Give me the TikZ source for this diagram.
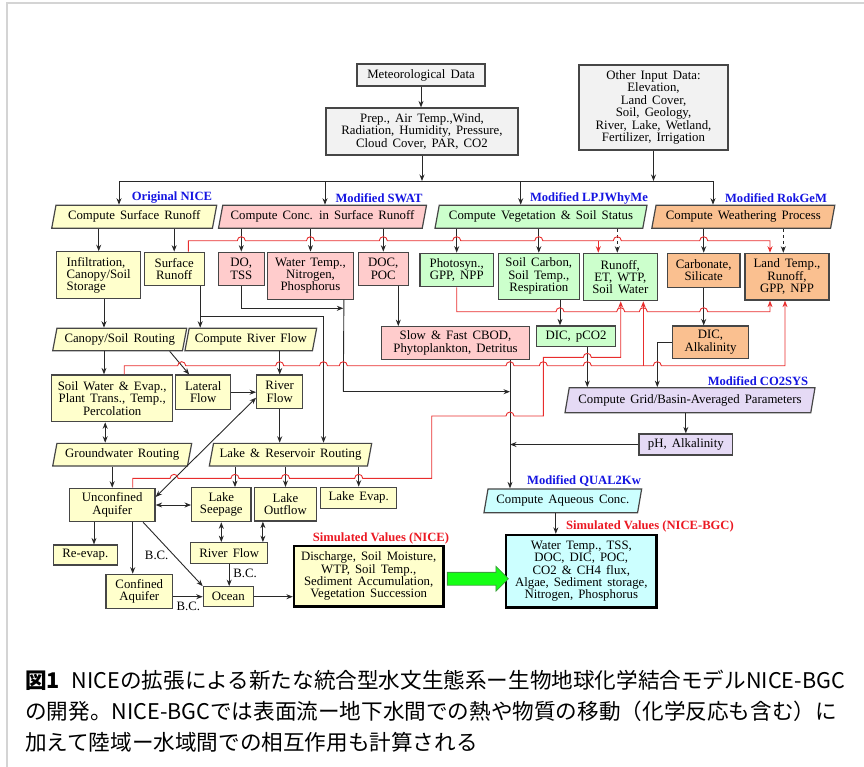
\documentclass[tikz,border=0pt]{standalone}
\usepackage{fontspec}
\setmainfont{Liberation Serif}
\newfontfamily\jpfont{Noto Sans CJK JP}
\usetikzlibrary{shapes.geometric,shapes.arrows,arrows.meta,calc}
\definecolor{boxyellow}{RGB}{255,255,204}
\definecolor{boxpink}{RGB}{255,204,204}
\definecolor{boxgreen}{RGB}{204,255,204}
\definecolor{boxorange}{RGB}{250,192,144}
\definecolor{boxpurple}{RGB}{229,218,245}
\definecolor{boxcyan}{RGB}{204,255,255}
\definecolor{boxgray}{RGB}{242,242,242}
\definecolor{boxedge}{RGB}{70,70,70}
\definecolor{lineblack}{RGB}{40,40,40}
\definecolor{redline}{RGB}{232,45,45}
\definecolor{tagblue}{RGB}{20,20,225}
\definecolor{tagred}{RGB}{235,25,35}
\definecolor{gainfill}{RGB}{20,255,20}
\definecolor{gainedge}{RGB}{60,160,60}
\definecolor{framegray}{RGB}{212,212,212}
\newcommand{\boxfont}{\fontsize{12.8}{12.4}\selectfont\spaceskip=0.4em plus 0.1em minus 0.05em\relax}
\newcommand{\tagfont}{\fontsize{12.6}{13}\selectfont\bfseries}
\newcommand{\capfont}{\jpfont\fontsize{21.6}{31}\selectfont}
\newcommand{\redhop}[2]{-- (#1-4,#2) arc[start angle=180,end angle=360,radius=4]}

\begin{document}
\begin{tikzpicture}[x=1pt,y=-1pt]
  \tikzset{rect/.style={draw=boxedge,line width=1.2pt,rectangle,inner sep=1pt,align=center,font=\boxfont}}
  \tikzset{para/.style={draw=boxedge,line width=1.2pt,trapezium,trapezium left angle=70,trapezium right angle=110,trapezium stretches body,inner sep=0pt,font=\boxfont}}
  \tikzset{tag/.style={inner sep=0pt,font=\tagfont,text=tagblue}}
  \tikzset{bc/.style={inner sep=0pt,font=\boxfont}}
  \tikzset{arrow/.style={draw=lineblack,line width=0.9pt,->,>={Stealth[length=6.5pt,width=5pt]}}}
  \tikzset{wire/.style={draw=lineblack,line width=0.9pt}}
  \tikzset{redarrow/.style={draw=redline,line width=0.9pt,->,>={Stealth[length=6.5pt,width=5pt]}}}

  \def\redA{240.7}
  \def\redB{311.7}
  \def\redC{365.7}

  \useasboundingbox (0,0) rectangle (864,766);
  \draw[framegray,line width=2pt] (870,3) -- (7,3) -- (7,770);

  \node[rect,fill=boxgray,minimum width=128,minimum height=22] (metdata) at (421,75) {Meteorological Data};
  \node[rect,fill=boxgray,minimum width=192,minimum height=47] (metvars) at (422,131.5) {Prep., Air Temp.,Wind,\\Radiation, Humidity, Pressure,\\Cloud Cover, PAR, CO2};
  \node[rect,fill=boxgray,minimum width=149,minimum height=85] (otherin) at (653.5,107.5) {Other Input Data:\\Elevation,\\Land Cover,\\Soil, Geology,\\River, Lake, Wetland,\\Fertilizer, Irrigation};

  \node[tag] (tagnice) at (172,198) {Original NICE};
  \node[tag] (tagswat) at (379,198) {Modified SWAT};
  \node[tag] (taglpj) at (589,198) {Modified LPJWhyMe};
  \node[tag] (tagrok) at (776,198) {Modified RokGeM};
  \node[tag] (tagco2) at (758,381) {Modified CO2SYS};
  \node[tag] (tagqual) at (584,481) {Modified QUAL2Kw};
  \node[tag,text=tagred] (tagsimn) at (381,538.3) {Simulated Values (NICE)};
  \node[tag,text=tagred] (tagsimb) at (650,526.7) {Simulated Values (NICE-BGC)};

  \node[para,fill=boxyellow,minimum width=165,minimum height=23] (surfr) at (134.2,216.8) {Compute Surface Runoff};
  \node[para,fill=boxpink,minimum width=208,minimum height=23] (concsr) at (322.5,216.8) {Compute Conc. in Surface Runoff};
  \node[para,fill=boxgreen,minimum width=212,minimum height=23] (vegsoil) at (541,216.8) {Compute Vegetation \& Soil Status};
  \node[para,fill=boxorange,minimum width=183,minimum height=23] (weather) at (743.3,216.8) {Compute Weathering Process};

  \node[rect,fill=boxyellow,minimum width=84,minimum height=47,align=left] (infil) at (98.7,275.3) {Infiltration,\\Canopy/Soil\\Storage};
  \node[rect,fill=boxyellow,minimum width=60,minimum height=33.5] (surfbox) at (174.2,269) {Surface\\Runoff};
  \node[rect,fill=boxpink,minimum width=46,minimum height=33.5] (dotss) at (241.3,269) {DO,\\TSS};
  \node[rect,fill=boxpink,minimum width=85.6,minimum height=47] (wtemp) at (310.5,275.7) {Water Temp.,\\Nitrogen,\\Phosphorus};
  \node[rect,fill=boxpink,minimum width=50,minimum height=33.5] (docpoc) at (383.3,269) {DOC,\\POC};
  \node[rect,fill=boxgreen,minimum width=73.3,minimum height=33.5] (photo) at (456.7,270) {Photosyn.,\\GPP, NPP};
  \node[rect,fill=boxgreen,minimum width=81,minimum height=46] (soilc) at (538.8,276.3) {Soil Carbon,\\Soil Temp.,\\Respiration};
  \node[rect,fill=boxgreen,minimum width=74,minimum height=47.4] (runoff) at (620.3,277) {Runoff,\\ET, WTP,\\Soil Water};
  \node[rect,fill=boxorange,minimum width=72.7,minimum height=34] (carb) at (703.7,270.3) {Carbonate,\\Silicate};
  \node[rect,fill=boxorange,minimum width=84,minimum height=46.7] (landt) at (787,276.7) {Land Temp.,\\Runoff,\\GPP, NPP};

  \node[para,fill=boxyellow,minimum width=134,minimum height=22.4] (canopyr) at (119.7,339.5) {Canopy/Soil Routing};
  \node[para,fill=boxyellow,minimum width=131.7,minimum height=22.4] (riverc) at (250.8,339.5) {Compute River Flow};
  \node[rect,fill=boxpink,minimum width=147.6,minimum height=32.6] (cbod) at (455.5,343) {Slow \& Fast CBOD,\\Phytoplankton, Detritus};
  \node[rect,fill=boxgreen,minimum width=78.6,minimum height=20.7] (dicpco2) at (576,336.3) {DIC, pCO2};
  \node[rect,fill=boxorange,minimum width=75.6,minimum height=32.3] (dicalk) at (710.5,342.2) {DIC,\\Alkalinity};

  \node[rect,fill=boxyellow,minimum width=121,minimum height=46.7] (soilw) at (112.2,398.3) {Soil Water \& Evap.,\\Plant Trans., Temp.,\\Percolation};
  \node[rect,fill=boxyellow,minimum width=55,minimum height=34.3] (lateral) at (203.2,392.2) {Lateral\\Flow};
  \node[rect,fill=boxyellow,minimum width=46,minimum height=33.3] (riverf) at (279.7,391.7) {River\\Flow};
  \node[para,fill=boxpurple,minimum width=250,minimum height=25] (gridavg) at (690,400.2) {Compute Grid/Basin-Averaged Parameters};
  \node[rect,fill=boxpurple,minimum width=93.7,minimum height=21] (phalk) at (685.8,444.5) {pH, Alkalinity};

  \node[para,fill=boxyellow,minimum width=139,minimum height=22.7] (gwr) at (122.2,454.7) {Groundwater Routing};
  \node[para,fill=boxyellow,minimum width=162.4,minimum height=22.7] (lakerr) at (290.5,454.7) {Lake \& Reservoir Routing};
  \node[para,fill=boxcyan,minimum width=157.7,minimum height=23.7] (aqconc) at (562.8,500.8) {Compute Aqueous Conc.};

  \node[rect,fill=boxyellow,minimum width=85.7,minimum height=33.4] (unconf) at (112.2,505) {Unconfined\\Aquifer};
  \node[rect,fill=boxyellow,minimum width=59.3,minimum height=34] (seep) at (221.3,504.7) {Lake\\Seepage};
  \node[rect,fill=boxyellow,minimum width=62.4,minimum height=33.5] (outflow) at (285.5,504.3) {Lake\\Outflow};
  \node[rect,fill=boxyellow,minimum width=76,minimum height=21] (evap) at (358.7,497.8) {Lake Evap.};

  \node[rect,fill=boxyellow,minimum width=64,minimum height=20] (reevap) at (85.3,555) {Re-evap.};
  \node[rect,fill=boxyellow,minimum width=77,minimum height=20.6] (riverl) at (229.2,553) {River Flow};
  \node[rect,fill=boxyellow,minimum width=66.7,minimum height=34] (confined) at (139.3,591.3) {Confined\\Aquifer};
  \node[rect,fill=boxyellow,minimum width=50,minimum height=20] (ocean) at (228.3,596.7) {Ocean};
  \node[rect,fill=boxyellow,draw=black,line width=2.4pt,minimum width=149.3,minimum height=60.7] (simnice) at (368.7,576.3) {Discharge, Soil Moisture,\\WTP, Soil Temp.,\\Sediment Accumulation,\\Vegetation Succession};
  \node[rect,fill=boxcyan,draw=black,line width=2.4pt,minimum width=150.7,minimum height=72.3] (simbgc) at (581.3,571.2) {Water Temp., TSS,\\DOC, DIC, POC,\\CO2 \& CH4 flux,\\Algae, Sediment storage,\\Nitrogen, Phosphorus};
  \node[single arrow,draw=gainedge,fill=gainfill,line width=0.8pt,inner sep=6pt,minimum height=61,single arrow head extend=6pt,single arrow tip angle=90,yshift=-5pt] (gain) at ($(simnice.east)!0.5!(simbgc.west)$) {};

  \node[bc] (bcaq) at (156.7,555.7) {B.C.};
  \node[bc] (bcriver) at (245,573.3) {B.C.};
  \node[bc] (bcconf) at (188.3,606.7) {B.C.};

  \node[anchor=base west,inner sep=0pt,font=\capfont] (cap1) at (25,688.5) {{\bfseries 図1}\hspace{0.55em}NICEの拡張による新たな統合型水文生態系ー生物地球化学結合モデルNICE-BGC};
  \node[anchor=base west,inner sep=0pt,font=\capfont] (cap2) at (25,719.5) {の開発。NICE-BGCでは表面流ー地下水間での熱や物質の移動（化学反応も含む）に};
  \node[anchor=base west,inner sep=0pt,font=\capfont] (cap3) at (25,750.5) {加えて陸域ー水域間での相互作用も計算される};

  \coordinate (bus) at (0,181);
  \coordinate (busnice) at (119,181);
  \coordinate (busswat) at (325,181);
  \coordinate (buslpj) at (520.7,181);
  \coordinate (busrok) at (713,181);
  \draw[arrow] (metdata.south) -- (metdata.south |- metvars.north);
  \draw[arrow] (metvars.south) -- (metvars.south |- bus);
  \draw[arrow] (otherin.south) -- (otherin.south |- bus);
  \draw[wire] (busnice) -- (busrok);
  \draw[arrow] (busnice) -- (busnice |- surfr.north);
  \draw[arrow] (busswat) -- (busswat |- concsr.north);
  \draw[arrow] (buslpj) -- (buslpj |- vegsoil.north);
  \draw[arrow] (busrok) -- (busrok |- weather.north);

  \coordinate (lpjdash) at ([xshift=-3]runoff.north);
  \coordinate (rokdash) at ([xshift=-3.7]landt.north);
  \draw[arrow] (surfr.south -| infil.north) -- (infil.north);
  \draw[arrow] (surfr.south -| surfbox.north) -- (surfbox.north);
  \draw[arrow] (concsr.south -| dotss.north) -- (dotss.north);
  \draw[arrow] (concsr.south -| wtemp.north) -- (wtemp.north);
  \draw[arrow] (concsr.south -| docpoc.north) -- (docpoc.north);
  \draw[arrow] (vegsoil.south -| photo.north) -- (photo.north);
  \draw[arrow] (vegsoil.south -| soilc.north) -- (soilc.north);
  \draw[arrow,dashed] (vegsoil.south -| lpjdash) -- (lpjdash);
  \draw[arrow] (weather.south -| carb.north) -- (carb.north);
  \draw[arrow,dashed] (weather.south -| rokdash) -- (rokdash);

  \coordinate (srout) at ([xshift=26]surfbox.south);
  \coordinate (srsplit) at (200.2,316.7);
  \coordinate (lakein) at ([xshift=33]lakerr.north);
  \draw[arrow] (srout) -- (srout |- riverc.north);
  \draw[arrow] (srsplit) -| (lakein);

  \coordinate (wtout) at ([xshift=-10]wtemp.south east);
  \coordinate (dojoin) at (343.3,308.3);
  \coordinate (wtturn) at (343.3,391.7);
  \coordinate (cbodout) at ([xshift=54.5]cbod.south);
  \coordinate (docout) at ([xshift=15]docpoc.south);
  \draw[arrow] (dotss.south) |- (dojoin);
  \draw[wire] (wtout) -- (wtturn);
  \draw[arrow] (wtturn) -- (wtturn -| cbodout);
  \draw[arrow] (docout) -- (docout |- cbod.north);
  \draw[arrow] (cbodout) -- (cbodout |- aqconc.north);
  \draw[arrow] (phalk.west) -- (phalk.west -| cbodout);

  \coordinate (scout) at ([xshift=21.2]soilc.south);
  \coordinate (dpout) at ([xshift=11.3]dicpco2.south);
  \coordinate (dakink) at (657.3,342.2);
  \coordinate (aqout) at ([xshift=-7]aqconc.south);
  \draw[arrow] (scout) -- (scout |- dicpco2.north);
  \draw[arrow] (dpout) -- (dpout |- gridavg.north);
  \draw[arrow] (carb.south) -- (carb.south |- dicalk.north);
  \draw[arrow] (dicalk.west) -| (dakink |- gridavg.north);
  \draw[arrow] (gridavg.south -| phalk.north) -- (phalk.north);
  \draw[arrow] (aqout) -- (aqout |- simbgc.north);

  \coordinate (infout) at ([xshift=5.3]infil.south);
  \coordinate (diaga) at ([xshift=50]canopyr.south);
  \coordinate (diagb) at ([xshift=-14]lateral.north);
  \coordinate (swout) at ([xshift=-7]soilw.south);
  \draw[arrow] (infout) -- (infout |- canopyr.north);
  \draw[arrow] (canopyr.south -| infout) -- (infout |- soilw.north);
  \draw[arrow] (diaga) -- (diagb);
  \draw[arrow] (riverc.south -| riverf.north) -- (riverf.north);
  \draw[arrow] (lateral.east) -- (lateral.east -| riverf.west);
  \draw[arrow] (riverf.south) -- (riverf.south |- lakerr.north);
  \draw[arrow,<->] (swout) -- (swout |- gwr.north);
  \draw[arrow] (gwr.south -| unconf.north) -- (unconf.north);

  \coordinate (aqdiag) at ([yshift=8]unconf.east);
  \coordinate (rfdiag) at ([yshift=-6]riverf.west);
  \coordinate (seepin) at ([xshift=13.7]seep.north);
  \coordinate (ureout) at ([xshift=-18.2]unconf.south);
  \coordinate (ucoout) at ([xshift=20.5]unconf.south);
  \coordinate (uocout) at ([xshift=31]unconf.south);
  \coordinate (ofx) at ([xshift=-5.4]riverl.north east);
  \draw[arrow,<->] (aqdiag) -- (rfdiag);
  \draw[arrow] (lakerr.south -| seepin) -- (seepin);
  \draw[arrow] (lakerr.south -| outflow.north) -- (outflow.north);
  \draw[arrow] (lakerr.south -| evap.north) -- (evap.north);
  \draw[arrow,<->] (unconf.east) -- (unconf.east -| seep.west);
  \draw[arrow] (ureout) -- (ureout |- reevap.north);
  \draw[arrow] (ucoout) -- (ucoout |- confined.north);
  \draw[arrow] (uocout) -- (ocean.north west);
  \draw[arrow,<->] (seep.south) -- (seep.south |- riverl.north);
  \draw[arrow,<->] (ofx) -- (ofx |- outflow.south);
  \draw[arrow] (riverl.south) -- (riverl.south |- ocean.north);
  \draw[arrow] (confined.east |- ocean.west) -- (ocean.west);
  \draw[arrow] (ocean.east) -- (ocean.east -| simnice.west);

  \coordinate (ra0) at ([xshift=14.1]surfbox.north);
  \coordinate (rabranch) at (598.3,\redA);
  \coordinate (raR) at ([xshift=-22]runoff.north);
  \coordinate (raL) at ([xshift=-17]landt.north);
  \draw[redarrow] (ra0) -- (188.3,\redA) \redhop{241.3}{\redA} \redhop{310.5}{\redA} \redhop{383.3}{\redA} \redhop{456.7}{\redA} \redhop{538.8}{\redA} \redhop{617.3}{\redA} \redhop{703.7}{\redA} -- (770,\redA) -- (raL);
  \draw[redarrow] (rabranch) -- (raR);

  \coordinate (rbL) at ([xshift=-17]landt.south);
  \draw[redarrow] (photo.south) -- (456.7,\redB) \redhop{560}{\redB} \redhop{620.7}{\redB} \redhop{643.3}{\redB} \redhop{703.7}{\redB} -- (770,\redB) -- (rbL);

  \coordinate (rc0) at ([xshift=12]soilw.north);
  \coordinate (rcbranch) at (643.3,\redC);
  \coordinate (rcR) at ([xshift=23]runoff.south);
  \coordinate (rcL) at ([xshift=-2]landt.south);
  \draw[redarrow] (rc0) -- (124.2,\redC) \redhop{181.7}{\redC} \redhop{279.7}{\redC} \redhop{323.5}{\redC} \redhop{343.3}{\redC} \redhop{510}{\redC} \redhop{543.3}{\redC} \redhop{587.3}{\redC} \redhop{657.3}{\redC} -- (785,\redC) -- (rcL);
  \draw[redarrow] (rcbranch) -- (rcR);

  \coordinate (rd0) at ([xshift=20.5]unconf.north);
  \coordinate (rdR) at ([xshift=0.4]runoff.south);
  \draw[redarrow] (rd0) -- (132.7,478.3) \redhop{174.1}{478.3} \redhop{235}{478.3} \redhop{285.5}{478.3} \redhop{358.7}{478.3} -- (431.7,478.3) -- (431.7,416) \redhop{510}{416} -- (543.3,416) -- (543.3,357.3) \redhop{587.3}{357.3} -- (620.7,357.3) -- (rdR);

\end{tikzpicture}
\end{document}
